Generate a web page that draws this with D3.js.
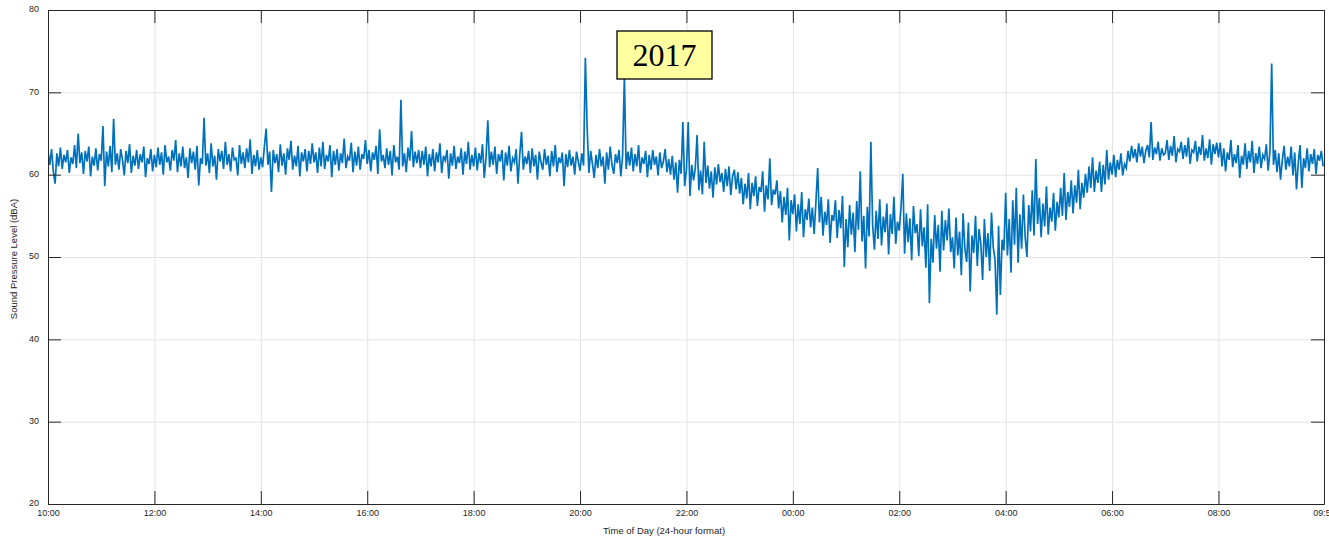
<!DOCTYPE html>
<html>
<head>
<meta charset="utf-8">
<script src="https://cdn.jsdelivr.net/npm/d3@7"></script>
<style>
  html, body { margin: 0; padding: 0; background: #ffffff; }
  svg { display: block; }
</style>
</head>
<body>
<svg id="chart" width="1329" height="537"></svg>
<script>
// ---------------- DATA ----------------
const startTime = "10:00";          // first sample
const endTime = "09:59";            // axis end (next day)
const sampleMinutes = 2;            // spacing of samples
// Sound pressure level (dBA), one row per hour starting 10:00
const splValues = [
  62.8,61.2,63.1,60.4,58.9,62.6,61.0,63.3,60.7,62.4,61.5,63.0,60.2,62.1,61.3,63.6,60.8,65.0,61.4,62.7,60.1,62.9,61.6,63.4,59.8,62.2,61.1,63.2,60.5,62.5,
  61.7,65.9,58.6,62.8,61.0,63.5,60.3,66.8,61.2,62.6,60.6,63.1,61.8,59.9,62.9,61.4,63.7,60.2,62.3,61.1,63.0,60.7,62.5,61.5,63.4,59.7,62.0,61.3,63.1,60.4,
  62.4,60.9,63.3,61.2,62.7,60.0,63.6,61.5,62.2,60.5,63.0,61.7,64.2,60.3,62.6,61.0,63.4,60.8,62.1,59.6,63.2,61.4,62.8,60.6,63.5,58.7,62.0,61.3,66.9,61.1,
  62.6,60.2,63.8,61.0,62.3,59.4,63.1,61.6,62.9,60.7,64.0,61.2,62.5,60.4,63.3,61.8,62.0,59.9,63.6,61.3,62.7,60.8,63.2,61.5,64.3,60.1,62.4,61.0,63.0,60.6,
  62.1,60.9,63.4,65.6,61.2,62.8,57.9,63.0,61.4,62.5,60.3,63.7,61.1,62.6,60.0,63.2,61.8,64.1,60.6,62.3,61.0,63.5,59.8,62.7,61.6,63.1,60.4,62.9,61.3,63.8,
  61.5,62.7,60.2,63.3,61.0,64.0,60.7,62.4,61.6,63.6,59.7,62.9,61.2,63.1,60.5,62.6,61.4,64.4,60.8,62.2,61.7,63.9,60.3,62.8,61.1,63.4,60.6,62.5,61.9,64.2,
  61.3,63.0,60.4,62.7,61.8,63.5,60.1,65.5,61.6,62.4,60.8,63.2,61.2,62.9,59.9,63.6,61.5,62.2,60.6,69.1,61.0,62.6,60.3,63.3,61.7,65.3,60.9,62.8,61.4,63.0,
  60.8,62.9,61.2,63.4,59.8,62.5,61.0,63.1,60.4,62.7,61.5,63.8,60.2,62.3,61.7,63.0,59.5,62.6,61.1,63.5,60.7,62.2,61.4,63.2,60.0,62.8,61.3,64.0,60.6,62.4,
  61.0,63.3,60.5,62.6,61.4,63.7,59.6,62.1,66.6,60.9,62.8,61.2,63.4,60.1,62.5,61.6,63.0,59.3,62.7,61.1,63.5,60.4,62.0,61.5,63.1,58.9,62.4,65.2,60.6,62.2,
  61.3,62.9,60.2,63.2,61.0,62.4,59.4,62.8,61.5,60.6,63.1,61.2,62.3,59.8,62.9,61.0,63.6,60.3,62.1,61.4,62.7,58.6,62.5,60.9,63.0,61.1,62.2,60.0,62.8,61.6,
  60.5,62.6,61.1,74.2,65.8,60.2,62.9,61.3,59.6,62.4,60.8,63.1,61.0,62.2,58.9,62.7,60.6,63.4,61.2,60.1,62.5,61.4,63.0,59.8,62.3,72.0,60.7,62.8,61.1,63.3,
  60.4,62.5,61.0,63.6,60.2,62.1,61.3,62.9,59.7,62.4,60.6,63.0,61.2,62.2,59.9,62.7,60.8,61.6,63.1,60.3,61.9,60.0,62.3,59.4,61.5,57.8,61.8,60.1,66.4,58.6,
  60.6,66.4,57.4,61.2,59.3,60.8,64.8,58.1,60.5,57.6,64.0,59.0,61.1,58.3,60.4,57.2,60.9,58.8,61.3,59.1,60.2,57.9,60.7,58.6,61.0,57.5,59.8,60.6,58.2,60.3,
  57.7,59.6,56.4,58.9,57.1,60.2,55.8,59.0,57.4,59.8,56.2,58.5,57.9,60.4,55.5,58.7,57.0,62.0,56.3,58.2,57.6,59.3,55.9,58.0,54.2,57.3,55.1,58.4,52.0,56.9,
  55.2,57.6,53.1,56.4,54.0,57.9,52.4,55.8,54.5,57.1,53.6,56.0,52.8,56.7,60.8,54.2,57.3,52.6,55.5,53.9,57.0,51.7,55.1,54.4,56.9,52.3,55.7,53.5,57.4,48.8,
  54.6,51.2,56.3,52.7,55.4,50.6,56.8,53.3,60.4,51.9,55.0,48.6,56.1,52.5,64.0,53.8,50.9,55.6,52.2,57.0,51.4,54.9,53.0,56.5,50.3,55.2,52.8,57.3,51.6,54.3,
  53.2,56.0,60.1,50.4,55.3,51.8,54.7,49.6,56.2,52.9,54.0,50.1,55.8,51.3,53.6,48.7,56.4,44.4,52.2,49.3,55.1,51.0,53.9,48.2,55.6,50.8,54.5,52.0,55.9,50.6,
  52.4,48.6,54.8,50.2,53.1,47.8,55.3,51.0,49.4,54.2,45.8,52.6,50.5,55.0,48.9,53.4,51.6,47.2,54.6,50.0,52.9,48.3,55.4,51.2,49.7,43.0,53.8,45.4,52.1,50.8,
  57.8,50.2,54.6,48.1,56.9,51.5,58.4,49.3,55.2,51.0,57.6,52.4,50.0,56.3,53.1,58.1,52.6,61.9,54.0,57.2,52.4,56.5,53.7,58.6,52.7,56.0,54.3,57.8,53.2,56.7,
  54.8,58.4,55.0,60.2,54.5,57.9,56.1,59.3,55.3,58.7,56.6,60.6,55.8,59.0,57.2,60.1,57.8,61.0,58.4,62.1,57.9,60.5,59.0,61.6,57.9,61.2,58.8,63.0,59.4,61.5,
  60.0,62.4,59.7,61.8,60.6,62.6,59.9,61.3,60.8,62.9,61.6,63.5,62.0,63.1,61.5,63.8,62.2,63.4,61.4,62.9,63.6,62.1,66.4,61.8,63.3,62.5,64.0,61.7,63.2,62.4,
  62.6,64.2,61.8,63.5,62.3,64.7,61.5,63.1,62.8,64.0,61.9,63.6,62.2,64.5,61.3,63.0,62.7,64.1,61.6,63.4,62.4,64.8,61.7,63.2,62.0,64.3,61.2,63.7,62.5,63.9,
  62.1,63.9,61.0,63.2,60.4,62.7,61.8,64.2,60.9,62.5,61.4,63.6,59.6,62.3,61.2,63.8,60.7,62.9,61.5,64.1,60.2,62.6,61.3,63.4,60.8,62.4,61.9,63.7,60.5,62.8,
  73.5,61.2,63.0,60.3,62.6,59.4,61.8,63.5,60.6,62.2,61.0,63.4,59.9,62.7,58.2,61.5,63.6,58.4,62.0,60.8,63.2,60.4,62.5,61.3,63.1,60.1,62.4,61.7,62.9,61.0
];
const xTickLabels = ["10:00","12:00","14:00","16:00","18:00","20:00","22:00","00:00","02:00","04:00","06:00","08:00","09:59"];
const yTickValues = [20, 30, 40, 50, 60, 70, 80];
const yDomain = [20, 80];
const annotationText = "2017";
const xAxisTitle = "Time of Day (24-hour format)";
const yAxisTitle = "Sound Pressure Level (dBA)";

// ---------------- LAYOUT ----------------
const svg = d3.select("#chart");
const M = { left: 48, right: 1324, top: 10, bottom: 504 };
const W = M.right - M.left, H = M.bottom - M.top;
const axisColor = "#262626";
const gridColor = "#e3e3e3";
const lineColor = "#0072BD";
const sansFont = '"Liberation Sans", Arial, Helvetica, sans-serif';
const serifFont = '"Liberation Serif", "Times New Roman", Times, serif';

const parseT = (s, dayOffset) => {
  const [h, m] = s.split(":").map(Number);
  return new Date(2017, 0, 1 + dayOffset, h, m);
};
const t0 = parseT(startTime, 0);
const t1 = parseT(endTime, 1);
const tickDates = xTickLabels.map((s, i) => {
  const [h] = s.split(":").map(Number);
  return parseT(s, (i > 0 && h < 10) ? 1 : 0);
});

const x = d3.scaleTime().domain([t0, t1]).range([M.left, M.right]);
const y = d3.scaleLinear().domain(yDomain).range([M.bottom, M.top]);

const series = splValues.map((v, i) => ({ t: new Date(t0.getTime() + i * sampleMinutes * 60000), v }));

// grid
const g = svg.append("g");
g.append("g").attr("transform", `translate(0,${M.bottom})`)
  .call(d3.axisBottom(x).tickValues(tickDates).tickSize(-H).tickFormat(""))
  .call(s => s.select(".domain").remove())
  .call(s => s.selectAll("line").attr("stroke", gridColor).attr("stroke-width", 1));
g.append("g").attr("transform", `translate(${M.left},0)`)
  .call(d3.axisLeft(y).tickValues(yTickValues).tickSize(-W).tickFormat(""))
  .call(s => s.select(".domain").remove())
  .call(s => s.selectAll("line").attr("stroke", gridColor).attr("stroke-width", 1));

// clip + line
svg.append("clipPath").attr("id", "clip").append("rect")
  .attr("x", M.left).attr("y", M.top).attr("width", W).attr("height", H);
svg.append("path")
  .datum(series)
  .attr("clip-path", "url(#clip)")
  .attr("fill", "none")
  .attr("stroke", lineColor)
  .attr("stroke-width", 1.7)
  .attr("stroke-linejoin", "miter")
  .attr("d", d3.line().x(d => x(d.t)).y(d => y(d.v)));

// axes with inward ticks
const tickLen = 13;
const styleAxis = s => {
  s.select(".domain").attr("stroke", axisColor).attr("stroke-width", 1);
  s.selectAll(".tick line").attr("stroke", axisColor).attr("stroke-width", 1);
  s.selectAll("text").attr("fill", axisColor).style("font-size", "9px")
    .style("font-family", sansFont);
};
svg.append("g").attr("transform", `translate(0,${M.bottom})`)
  .call(d3.axisBottom(x).tickValues(tickDates).tickSize(-tickLen).tickSizeOuter(0).tickPadding(6)
    .tickFormat((d, i) => xTickLabels[i]))
  .call(styleAxis);
svg.append("g").attr("transform", `translate(0,${M.top})`)
  .call(d3.axisTop(x).tickValues(tickDates).tickSize(-tickLen).tickSizeOuter(0).tickFormat(""))
  .call(styleAxis);
svg.append("g").attr("transform", `translate(${M.left},0)`)
  .call(d3.axisLeft(y).tickValues(yTickValues).tickSize(-tickLen).tickSizeOuter(0).tickPadding(9)
    .tickFormat(d3.format("d")))
  .call(styleAxis)
  .call(s => s.selectAll("text").attr("dy", "0.2em"));
svg.append("g").attr("transform", `translate(${M.right},0)`)
  .call(d3.axisRight(y).tickValues(yTickValues).tickSize(-tickLen).tickSizeOuter(0).tickFormat(""))
  .call(styleAxis);

// axis titles
svg.append("text").attr("x", 664).attr("y", 534)
  .attr("text-anchor", "middle").style("font-size", "9.5px").style("font-family", sansFont)
  .attr("fill", axisColor).text(xAxisTitle);
svg.append("text").attr("transform", "translate(17,259) rotate(-90)")
  .attr("text-anchor", "middle").style("font-size", "9.5px").style("font-family", sansFont)
  .attr("fill", axisColor).text(yAxisTitle);

// annotation box
const ann = svg.append("g");
ann.append("rect").attr("x", 617).attr("y", 31).attr("width", 95).attr("height", 48)
  .attr("fill", "#ffffa0").attr("stroke", "#000").attr("stroke-width", 1.3);
ann.append("text").attr("x", 664.5).attr("y", 66).attr("text-anchor", "middle")
  .style("font-family", serifFont)
  .style("font-size", "32px").attr("fill", "#000").text(annotationText);
</script>
</body>
</html>
